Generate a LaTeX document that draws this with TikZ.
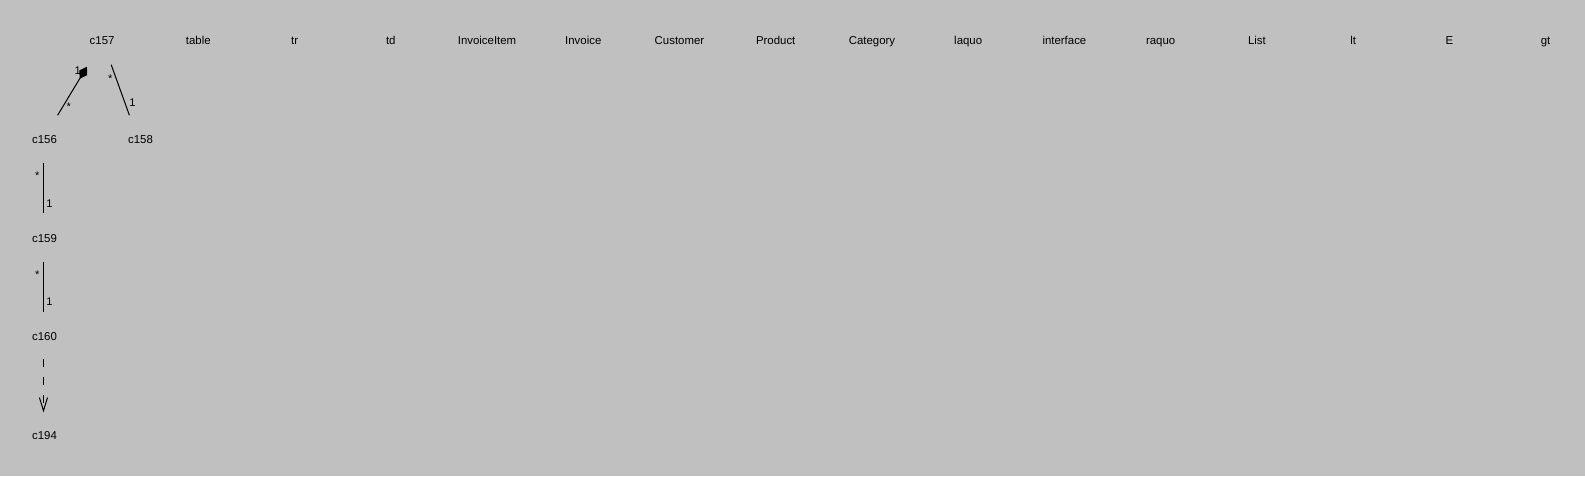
\documentclass[tikz,border=0pt]{standalone}
\usepackage{fontspec}
\setmainfont{Liberation Sans}
\usepackage{tikz}
\usetikzlibrary{arrows.meta}
\definecolor{panel-grey}{RGB}{192,192,192}
\tikzstyle{cls}=[inner sep=0pt, text height=8pt, text depth=2pt, font=\fontsize{11.3}{13}\selectfont]
\tikzstyle{mult}=[inner sep=0pt, font=\fontsize{11}{13}\selectfont]
\tikzstyle{assoc}=[line width=1pt]
\newcommand{\multPair}[4]{
	\node[mult] at #1 {#2};
	\node[mult] at #3 {#4};
}

\begin{document}
\begin{tikzpicture}[x=1pt,y=-1pt]
	\useasboundingbox[fill=panel-grey] (0,0) rectangle (1568,471);
	\node[cls] (c157) at (101,41) {c157};
	\foreach \t [count=\i] in {table,tr,td,InvoiceItem,Invoice,Customer,Product,Category,laquo,interface,raquo,List,lt,E,gt}
		\node[cls] (\t) at ({101+95.2*\i},41) {\t};
	\node[cls] (c156) at (44,139) {c156};
	\node[cls] (c158) at (139,139) {c158};
	\node[cls] (c159) at (44,237) {c159};
	\node[cls] (c160) at (44,334) {c160};
	\node[cls] (c194) at (44,432) {c194};
	\draw[assoc,-{Diamond[length=14pt,width=9pt]}] ([shift={(13,-25)}]c156.center) -- ([shift={(-15,25)}]c157.center);
	\draw[assoc] ([shift={(9,23)}]c157.center) -- ([shift={(-11,-25)}]c158.center);
	\draw[assoc] ([shift={(-1,22)}]c156.center) -- ([shift={(-1,-26)}]c159.center);
	\draw[assoc] ([shift={(-1,22)}]c159.center) -- ([shift={(-1,-25)}]c160.center);
	\draw[assoc,dash pattern=on 8pt off 10pt,-{Straight Barb[length=13pt,width=8pt]}] ([shift={(-1,21)}]c160.center) -- ([shift={(-1,-24)}]c194.center);
	\multPair{(77,70)}{1}{(68,106)}{*}
	\multPair{(109,78)}{*}{(131,102)}{1}
	\multPair{(37,174)}{*}{(49,201)}{1}
	\multPair{(37,272)}{*}{(49,298)}{1}
\end{tikzpicture}
\end{document}
